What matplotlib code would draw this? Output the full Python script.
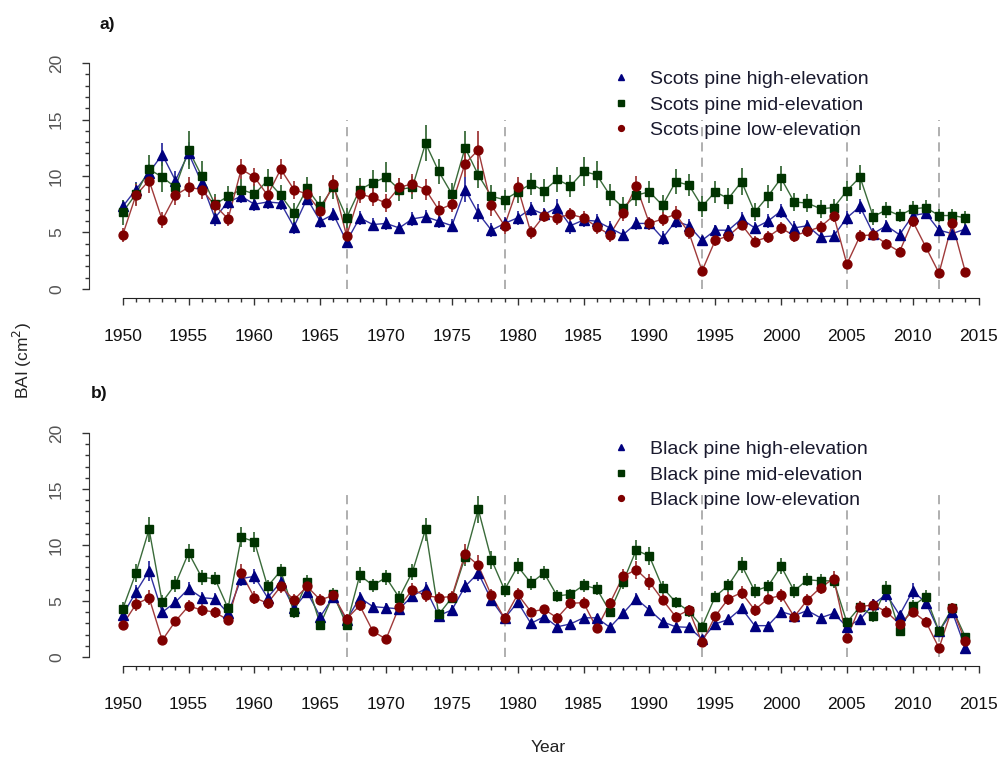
import numpy as np
import matplotlib
matplotlib.use("Agg")
import matplotlib.pyplot as plt
from matplotlib.ticker import FixedLocator

plt.rcParams['font.family'] = ['Liberation Sans', 'DejaVu Sans']

years = np.arange(1950, 2015)
event_years = [1967, 1979, 1994, 2005, 2012]

# Scots pine BAI (cm2) by elevation
scots_high = [7.3, 8.8, 10.3, 11.9, 9.6, 12.0, 9.4, 6.3, 7.7, 8.2,
              7.5, 7.7, 7.6, 5.5, 8.0, 6.0, 6.6, 4.2, 6.3, 5.7,
              5.8, 5.4, 6.2, 6.4, 6.0, 5.6, 8.8, 6.7, 5.2, 5.8,
              6.3, 7.1, 6.6, 7.2, 5.6, 6.1, 6.0, 5.4, 4.8, 5.8,
              5.8, 4.5, 6.0, 5.6, 4.3, 5.2, 5.2, 6.2, 5.4, 6.0,
              6.9, 5.4, 5.6, 4.6, 4.7, 6.3, 7.3, 4.9, 5.6, 4.8,
              6.5, 6.7, 5.2, 4.9, 5.3]
scots_high_se = [0.6, 0.7, 0.8, 1.0, 0.8, 1.0, 0.8, 0.7, 0.6, 0.6,
                 0.6, 0.6, 0.6, 0.6, 0.6, 0.6, 0.6, 0.6, 0.6, 0.6,
                 0.6, 0.5, 0.6, 0.6, 0.6, 0.6, 1.1, 0.8, 0.6, 0.6,
                 0.6, 0.6, 0.6, 0.8, 0.7, 0.6, 0.6, 0.6, 0.5, 0.6,
                 0.6, 0.6, 0.6, 0.6, 0.4, 0.5, 0.5, 0.6, 0.5, 0.6,
                 0.6, 0.6, 0.5, 0.5, 0.5, 0.6, 0.7, 0.5, 0.5, 0.5,
                 0.6, 0.5, 0.5, 0.5, 0.5]
scots_mid = [6.8, 8.4, 10.6, 9.9, 9.0, 12.3, 10.0, 7.5, 8.2, 8.8,
             8.4, 9.6, 8.3, 6.7, 8.9, 7.3, 9.0, 6.3, 8.8, 9.4,
             9.9, 8.8, 9.0, 12.9, 10.4, 8.4, 12.5, 10.1, 8.2, 7.9,
             8.6, 9.3, 8.7, 9.7, 9.1, 10.4, 10.1, 8.3, 7.2, 8.3,
             8.6, 7.4, 9.5, 9.2, 7.3, 8.6, 8.0, 9.5, 6.8, 8.2,
             9.8, 7.7, 7.6, 7.1, 7.2, 8.7, 9.9, 6.4, 7.0, 6.5,
             7.1, 7.2, 6.5, 6.5, 6.3]
scots_mid_se = [1.1, 1.0, 1.3, 1.3, 1.0, 1.7, 1.3, 0.9, 0.9, 0.9,
                0.9, 1.0, 0.9, 0.9, 1.0, 0.9, 1.0, 0.9, 1.0, 1.1,
                1.3, 1.0, 1.0, 1.6, 1.1, 1.0, 1.5, 1.2, 1.0, 0.9,
                1.0, 1.0, 1.0, 1.1, 1.0, 1.3, 1.2, 1.0, 0.9, 1.0,
                1.0, 0.9, 1.1, 1.0, 0.9, 1.0, 0.9, 1.2, 0.8, 1.0,
                1.1, 0.8, 0.8, 0.8, 0.8, 0.9, 1.1, 0.7, 0.7, 0.6,
                0.7, 0.7, 0.6, 0.6, 0.6]
scots_low = [4.8, 8.3, 9.6, 6.1, 8.3, 9.0, 8.8, 7.4, 6.2, 10.6,
             9.9, 8.3, 10.6, 8.8, 8.4, 6.9, 9.3, 4.7, 8.4, 8.1,
             7.6, 9.0, 9.3, 8.8, 7.0, 7.5, 11.1, 12.3, 7.4, 5.6,
             9.0, 5.0, 6.5, 6.3, 6.6, 6.3, 5.5, 4.8, 6.7, 9.1,
             5.8, 6.2, 6.6, 5.0, 1.6, 4.3, 4.7, 5.7, 4.2, 4.6,
             5.4, 4.7, 5.1, 5.5, 6.5, 2.2, 4.7, 4.8, 4.0, 3.3,
             6.0, 3.7, 1.4, 5.8, 1.5]
scots_low_se = [0.6, 1.0, 1.1, 0.7, 0.9, 0.9, 0.8, 0.7, 0.6, 0.9,
                0.8, 0.8, 0.9, 0.8, 0.8, 0.7, 0.8, 0.7, 0.8, 0.8,
                0.8, 0.8, 0.9, 0.9, 0.8, 0.7, 1.2, 1.7, 0.9, 0.7,
                0.9, 0.6, 0.6, 0.6, 0.6, 0.6, 0.6, 0.6, 0.7, 0.9,
                0.6, 0.6, 0.7, 0.6, 0.4, 0.5, 0.5, 0.5, 0.5, 0.5,
                0.5, 0.5, 0.5, 0.5, 0.6, 0.4, 0.5, 0.5, 0.4, 0.4,
                0.5, 0.4, 0.3, 0.5, 0.3]

# Black pine BAI (cm2) by elevation
black_high = [3.75, 5.8, 7.7, 4.0, 4.9, 6.1, 5.3, 5.2, 3.9, 7.0,
              7.2, 5.3, 6.7, 4.35, 5.8, 3.6, 5.4, 3.3, 5.3, 4.5,
              4.4, 4.3, 5.45, 6.1, 3.7, 4.2, 6.3, 7.5, 5.1, 3.45,
              4.9, 3.0, 3.6, 2.7, 2.95, 3.5, 3.5, 2.65, 3.9, 5.2,
              4.2, 3.15, 2.7, 2.65, 1.6, 2.95, 3.35, 4.35, 2.8, 2.8,
              4.05, 3.7, 4.15, 3.5, 3.9, 2.7, 3.35, 4.7, 5.6, 3.75,
              5.9, 4.85, 2.3, 4.05, 0.8]
black_high_se = [0.5, 0.6, 0.9, 0.5, 0.5, 0.6, 0.5, 0.5, 0.5, 0.7,
                 0.7, 0.5, 0.6, 0.5, 0.5, 0.4, 0.5, 0.4, 0.5, 0.4,
                 0.4, 0.4, 0.5, 0.6, 0.4, 0.4, 0.6, 0.7, 0.5, 0.4,
                 0.4, 0.3, 0.4, 0.3, 0.3, 0.3, 0.3, 0.3, 0.4, 0.5,
                 0.4, 0.3, 0.3, 0.3, 0.2, 0.3, 0.3, 0.4, 0.3, 0.3,
                 0.4, 0.3, 0.4, 0.3, 0.4, 0.3, 0.3, 0.5, 0.7, 0.4,
                 0.7, 0.6, 0.3, 0.5, 0.2]
black_mid = [4.3, 7.5, 11.4, 4.9, 6.5, 9.3, 7.1, 7.0, 4.35, 10.7,
             10.3, 6.3, 7.7, 4.0, 6.7, 2.9, 5.6, 2.85, 7.3, 6.4,
             7.1, 5.3, 7.6, 11.4, 3.8, 5.3, 8.9, 13.2, 8.7, 6.0,
             8.1, 6.6, 7.5, 5.45, 5.6, 6.4, 6.1, 4.05, 6.7, 9.55,
             9.0, 6.2, 4.9, 4.1, 2.7, 5.4, 6.4, 8.2, 5.9, 6.3,
             8.1, 5.9, 6.9, 6.8, 6.8, 3.1, 4.5, 3.65, 6.1, 2.35,
             4.55, 5.4, 2.3, 4.35, 1.8]
black_mid_se = [0.6, 0.8, 1.1, 0.6, 0.7, 0.8, 0.7, 0.6, 0.5, 0.9,
                0.9, 0.6, 0.6, 0.5, 0.6, 0.4, 0.6, 0.4, 0.7, 0.6,
                0.7, 0.6, 0.7, 1.0, 0.5, 0.5, 0.8, 1.2, 0.8, 0.6,
                0.7, 0.6, 0.6, 0.5, 0.5, 0.6, 0.6, 0.5, 0.6, 0.9,
                0.8, 0.6, 0.5, 0.5, 0.4, 0.5, 0.6, 0.7, 0.6, 0.6,
                0.7, 0.6, 0.6, 0.6, 0.6, 0.4, 0.5, 0.5, 0.7, 0.4,
                0.5, 0.6, 0.4, 0.5, 0.3]
black_low = [2.9, 4.7, 5.3, 1.5, 3.2, 4.55, 4.2, 4.0, 3.3, 7.5,
             5.3, 4.8, 6.3, 5.1, 6.3, 5.1, 5.5, 3.4, 4.6, 2.3,
             1.6, 4.5, 6.0, 5.5, 5.3, 5.4, 9.2, 8.2, 5.5, 3.45,
             5.6, 4.05, 4.25, 3.5, 4.8, 4.85, 2.55, 4.8, 7.2, 7.8,
             6.7, 5.1, 3.6, 4.2, 1.3, 3.65, 5.2, 5.75, 4.2, 5.2,
             5.5, 3.6, 5.1, 6.2, 7.0, 1.7, 4.5, 4.65, 4.05, 2.95,
             4.05, 3.15, 0.8, 4.35, 1.4]
black_low_se = [0.4, 0.6, 0.7, 0.3, 0.4, 0.5, 0.5, 0.5, 0.4, 0.8,
                0.6, 0.5, 0.6, 0.5, 0.6, 0.5, 0.5, 0.4, 0.5, 0.3,
                0.3, 0.5, 0.6, 0.6, 0.5, 0.5, 0.9, 0.9, 0.6, 0.4,
                0.6, 0.4, 0.4, 0.4, 0.5, 0.5, 0.3, 0.5, 0.7, 0.8,
                0.7, 0.5, 0.4, 0.4, 0.2, 0.4, 0.6, 0.6, 0.5, 0.5,
                0.6, 0.4, 0.5, 0.6, 0.7, 0.3, 0.5, 0.5, 0.5, 0.4,
                0.5, 0.4, 0.2, 0.5, 0.2]

col_high = '#00007f'
col_mid = '#003300'
col_low = '#7f0000'
line_high = '#3030a0'
line_mid = '#3a6b3a'
line_low = '#a03a3a'

fig = plt.figure(figsize=(10.05, 7.67), dpi=100)
ax_a = fig.add_axes([0.0886, 0.6115, 0.9055, 0.3181])
ax_b = fig.add_axes([0.0886, 0.1317, 0.9055, 0.3155])

panels = [
    (ax_a, 'a)', 'Scots pine',
     [(scots_high, scots_high_se, '^', col_high, line_high, 7.0),
      (scots_mid, scots_mid_se, 's', col_mid, line_mid, 6.0),
      (scots_low, scots_low_se, 'o', col_low, line_low, 6.4)]),
    (ax_b, 'b)', 'Black pine',
     [(black_high, black_high_se, '^', col_high, line_high, 7.0),
      (black_mid, black_mid_se, 's', col_mid, line_mid, 6.0),
      (black_low, black_low_se, 'o', col_low, line_low, 6.4)]),
]
elev_names = ['high-elevation', 'mid-elevation', 'low-elevation']

for ax, tag, species, series in panels:
    ax.set_xlim(1947.44, 2016.56)
    ax.set_ylim(-0.8, 20.8)

    for yr in event_years:
        ax.plot([yr, yr], [0, 15], color='#9a9a9a', lw=1.1,
                ls=(0, (6, 4)), zorder=1)

    handles = []
    for (vals, se, mk, mcol, lcol, ms), name in zip(series, elev_names):
        ax.errorbar(years, vals, yerr=se, fmt='none', ecolor=lcol,
                    elinewidth=1.3, capsize=0, zorder=2)
        ax.plot(years, vals, color=lcol, lw=1.0, zorder=3)
        ax.plot(years, vals, ls='none', marker=mk, ms=ms, color=mcol,
                mec=mcol, zorder=4)
        h, = ax.plot([], [], ls='none', marker=mk, ms=ms - 2.2,
                     color=mcol, label=species + ' ' + name)
        handles.append(h)

    leg = ax.legend(handles=handles, loc='upper left',
                    bbox_to_anchor=(0.556, 1.0), frameon=False,
                    fontsize=14, handlelength=1.0, handletextpad=1.0,
                    labelspacing=0.4, borderaxespad=0.45)
    for t in leg.get_texts():
        t.set_color('#1a1a2e')

    for side in ['top', 'right']:
        ax.spines[side].set_visible(False)
    ax.spines['left'].set_bounds(0, 20)
    ax.spines['bottom'].set_bounds(1950, 2015)
    ax.spines['left'].set_color('#333333')
    ax.spines['bottom'].set_color('#222222')

    ax.set_yticks(np.arange(0, 21, 5))
    ax.yaxis.set_minor_locator(FixedLocator(np.arange(0, 21, 1)))
    ax.set_xticks(np.arange(1950, 2016, 5))
    ax.xaxis.set_minor_locator(FixedLocator(np.arange(1950, 2016, 1)))
    ax.tick_params(axis='both', which='major', direction='out',
                   length=5, width=1, labelsize=12.5, color='#333333')
    ax.tick_params(axis='both', which='minor', direction='out',
                   length=2.8, width=1, color='#333333')
    ax.tick_params(axis='y', labelcolor='#555555', pad=13)
    ax.tick_params(axis='x', labelcolor='#111111', pad=17)
    for lab in ax.get_yticklabels():
        lab.set_rotation(90)
        lab.set_va('center')

    tag_x = 0.012 if tag == 'a)' else 0.002
    tag_y = 1.12 if tag == 'a)' else 1.125
    ax.text(tag_x, tag_y, tag, transform=ax.transAxes, fontsize=12.5,
            fontweight='bold', ha='left', va='center', color='#111111')

fig.text(0.022, 0.53, 'BAI (cm$^2$)', rotation=90, ha='center',
         va='center', fontsize=12.5, color='#222222')
fig.text(0.545, 0.025, 'Year', ha='center', va='center',
         fontsize=12.5, color='#222222')

fig.savefig('out.png', dpi=100)
